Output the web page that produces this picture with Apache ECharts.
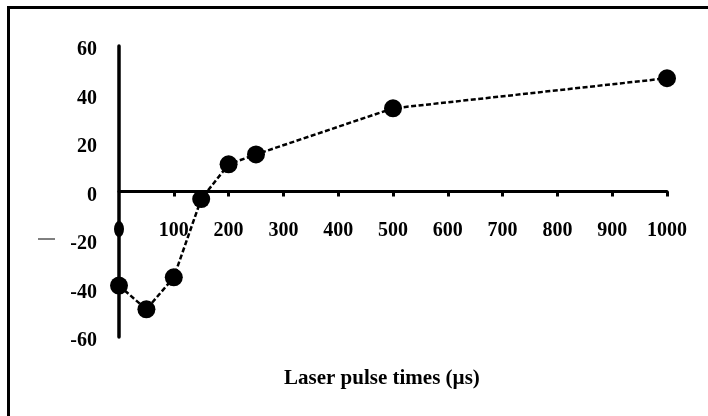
<!DOCTYPE html>
<html>
<head>
<meta charset="utf-8">
<script src="https://cdn.jsdelivr.net/npm/echarts@6/dist/echarts.min.js"></script>
<style>
html,body{margin:0;padding:0;background:#fff;}
#chart{width:708px;height:416px;}
</style>
</head>
<body>
<div id="chart"></div>
<script>
// Data
const pulseTimes = [0, 50, 100, 150, 200, 250, 500, 1000];
const values = [-38.8, -48.6, -35.4, -3.1, 11.2, 15.3, 34.3, 46.7];
const strayPointX = [0];
const strayPointY = [-15.5];
const xAxisTitle = 'Laser pulse times (µs)';

const FONT = '"Liberation Serif", "Times New Roman", serif';
const GRID_TOP = 46, GRID_BOTTOM = 79, H = 416;
const Y_MIN = -60, Y_MAX = 60;
// distance from grid bottom up to the zero line, derived from the axis range
const zeroOffset = (H - GRID_TOP - GRID_BOTTOM) * (0 - Y_MIN) / (Y_MAX - Y_MIN);

const chart = echarts.init(document.getElementById('chart'), null, {renderer: 'canvas'});
chart.setOption({
  animation: false,
  backgroundColor: '#ffffff',
  grid: {left: 119, right: 41, top: GRID_TOP, bottom: GRID_BOTTOM},
  xAxis: {
    type: 'value',
    min: 0, max: 1000, interval: 100,
    offset: -zeroOffset,
    axisLine: {onZero: false, lineStyle: {color: '#000', width: 3}},
    axisTick: {show: true, inside: false, length: 5, lineStyle: {color: '#000', width: 3}},
    splitLine: {show: false},
    axisLabel: {
      showMinLabel: false,
      margin: 29,
      formatter: v => String(v),
      color: '#000', fontFamily: FONT, fontWeight: 'bold', fontSize: 20
    }
  },
  yAxis: {
    type: 'value',
    min: Y_MIN, max: Y_MAX, interval: 20,
    axisLine: {show: true, lineStyle: {color: '#000', width: 3.5}},
    axisTick: {show: false},
    splitLine: {show: false},
    axisLabel: {
      margin: 22,
      formatter: v => '{a|' + v + '}',
      rich: {a: {padding: [8, 0, 0, 0], color: '#000', fontFamily: FONT, fontWeight: 'bold', fontSize: 20}},
      color: '#000', fontFamily: FONT, fontWeight: 'bold', fontSize: 20
    }
  },
  series: [
    {
      type: 'line',
      data: pulseTimes.map((x, i) => [x, values[i]]),
      clip: false,
      symbol: 'circle',
      symbolSize: 18,
      itemStyle: {color: '#000', opacity: 1},
      lineStyle: {color: '#000', width: 2.5, type: [5, 2.5]},
      z: 5
    },
    {
      type: 'scatter',
      data: strayPointX.map((x, i) => [x, strayPointY[i]]),
      clip: false,
      symbol: 'circle',
      symbolSize: [10, 16],
      itemStyle: {color: '#000', opacity: 1},
      z: 6
    }
  ],
  graphic: [
    {
      type: 'rect',
      shape: {x: 8.5, y: 7.5, width: 800, height: 500},
      style: {fill: 'none', stroke: '#000', lineWidth: 3},
      silent: true
    },
    {
      type: 'line',
      shape: {x1: 38, y1: 239, x2: 55, y2: 239},
      style: {stroke: '#000', lineWidth: 1},
      silent: true
    },
    {
      type: 'text',
      left: 284, top: 368,
      style: {
        text: xAxisTitle,
        fill: '#000', font: 'bold 21px ' + FONT
      }
    }
  ]
});
</script>
</body>
</html>
